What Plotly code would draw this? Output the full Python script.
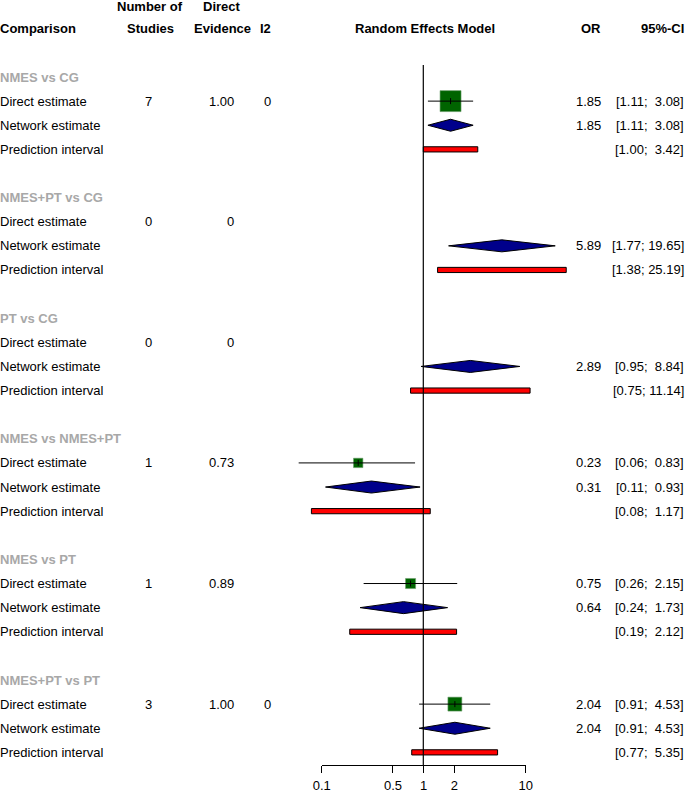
import plotly.graph_objects as go
import math

# ---------------- data ----------------
groups = ["NMES vs CG", "NMES+PT vs CG", "PT vs CG",
          "NMES vs NMES+PT", "NMES vs PT", "NMES+PT vs PT"]
row_labels = ["Direct estimate", "Network estimate", "Prediction interval"]
n_studies = [7, 0, 0, 1, 1, 3]
direct_evidence = [1.00, 0, 0, 0.73, 0.89, 1.00]
i2 = [0, None, None, None, None, 0]
direct_or = [1.85, None, None, 0.23, 0.75, 2.04]
direct_lo = [1.11, None, None, 0.06, 0.26, 0.91]
direct_hi = [3.08, None, None, 0.83, 2.15, 4.53]
direct_weight = [1.0, None, None, 0.20, 0.23, 0.44]   # relative box size
net_or = [1.85, 5.89, 2.89, 0.31, 0.64, 2.04]
net_lo = [1.11, 1.77, 0.95, 0.11, 0.24, 0.91]
net_hi = [3.08, 19.65, 8.84, 0.93, 1.73, 4.53]
pred_lo = [1.00, 1.38, 0.75, 0.08, 0.19, 0.77]
pred_hi = [3.42, 25.19, 11.14, 1.17, 2.12, 5.35]
tick_vals = [0.1, 0.5, 1, 2, 10]
tick_text = ["0.1", "0.5", "1", "2", "10"]

# ---------------- layout geometry ----------------
W, H = 685, 794
ROW0_PX, ROW_PX = 77.0, 24.12
X1_PX, DEC_PX = 423.3, 102.0
FONT = "Liberation Sans, Arial, Helvetica, sans-serif"
FS = 13
GRAY = "#a8a8a8"


def prow(py):
    return (py - ROW0_PX) / ROW_PX


y_range = [prow(H), prow(0)]
x_range = [(0 - X1_PX) / DEC_PX, (W - X1_PX) / DEC_PX]

fig = go.Figure()

diam_h = 6.0 / ROW_PX
pred_h = 2.6 / ROW_PX
tick_h = 3.0 / ROW_PX
BOX_MAX = 21.0


def fmt2(v):
    return f"{v:.2f}"


def fmt_ci(lo, hi):
    lo_s = f"{lo:.2f}"
    hi_s = f"{hi:.2f}"
    pad = "\u00a0" * (5 - len(hi_s) + 1)
    return f"[{lo_s};{pad}{hi_s}]"


ann = []


def text(xpx, row, s, anchor="left", bold=False, color="black"):
    if bold:
        s = f"<b>{s}</b>"
    ann.append(dict(x=xpx, y=row, xref="x3", yref="y", text=s,
                    showarrow=False, xanchor=anchor, yanchor="middle",
                    borderpad=0, borderwidth=0,
                    font=dict(family=FONT, size=FS, color=color)))


# headers
text(0, -2, "Comparison", bold=True)
text(150, prow(6), "Number of", anchor="center", bold=True)
text(150, -2, "Studies", anchor="center", bold=True)
text(222, prow(6), "Direct", anchor="center", bold=True)
text(222, -2, "Evidence", anchor="center", bold=True)
text(265, -2, "I2", anchor="center", bold=True)
text(424.5, -2, "Random Effects Model", anchor="center", bold=True)
text(601, -2, "OR", anchor="right", bold=True)
text(684, -2, "95%-CI", anchor="right", bold=True)

for g, name in enumerate(groups):
    r = 5 * g
    text(0, r, name, bold=True, color=GRAY)
    for k, lab in enumerate(row_labels):
        text(0, r + 1 + k, lab)
    text(152, r + 1, str(n_studies[g]), anchor="right")
    de = direct_evidence[g]
    text(234, r + 1, "0" if de == 0 else fmt2(de), anchor="right")
    if i2[g] is not None:
        text(267, r + 1, str(i2[g]), anchor="center")

    # direct estimate
    if direct_or[g] is not None:
        rr = r + 1
        fig.add_trace(go.Scatter(
            x=[direct_or[g]], y=[rr], mode="markers",
            marker=dict(symbol="square", size=BOX_MAX * math.sqrt(direct_weight[g]),
                        color="#006400", line=dict(color="#6f9f6f", width=0.6)),
            hoverinfo="skip"))
        fig.add_trace(go.Scatter(
            x=[direct_lo[g], direct_hi[g]], y=[rr, rr], mode="lines",
            line=dict(color="black", width=1), hoverinfo="skip"))
        fig.add_trace(go.Scatter(
            x=[direct_or[g], direct_or[g]], y=[rr - tick_h, rr + tick_h], mode="lines",
            line=dict(color="black", width=1), hoverinfo="skip"))
        text(601, rr, fmt2(direct_or[g]), anchor="right")
        text(684, rr, fmt_ci(direct_lo[g], direct_hi[g]), anchor="right")

    # network estimate diamond
    rr = r + 2
    fig.add_trace(go.Scatter(
        x=[net_lo[g], net_or[g], net_hi[g], net_or[g], net_lo[g]],
        y=[rr, rr - diam_h, rr, rr + diam_h, rr],
        mode="lines", fill="toself", fillcolor="#00008b",
        line=dict(color="black", width=1), hoverinfo="skip"))
    text(601, rr, fmt2(net_or[g]), anchor="right")
    text(684, rr, fmt_ci(net_lo[g], net_hi[g]), anchor="right")

    # prediction interval bar
    rr = r + 3
    fig.add_trace(go.Scatter(
        x=[pred_lo[g], pred_hi[g], pred_hi[g], pred_lo[g], pred_lo[g]],
        y=[rr - pred_h, rr - pred_h, rr + pred_h, rr + pred_h, rr - pred_h],
        mode="lines", fill="toself", fillcolor="#ff0000",
        line=dict(color="black", width=1), hoverinfo="skip"))
    text(684, rr, fmt_ci(pred_lo[g], pred_hi[g]), anchor="right")

# reference line at OR = 1
fig.add_trace(go.Scatter(x=[1, 1], y=[prow(65), prow(765)], mode="lines",
                         line=dict(color="black", width=1.2), hoverinfo="skip"))

# dummy traces to carry the tick axis and the text axis
fig.add_trace(go.Scatter(x=[1], y=[0], xaxis="x2", yaxis="y2", mode="markers",
                         marker=dict(opacity=0), hoverinfo="skip"))
fig.add_trace(go.Scatter(x=[10], y=[0], xaxis="x3", yaxis="y", mode="markers",
                         marker=dict(opacity=0), hoverinfo="skip"))

fig.update_layout(
    width=W, height=H, margin=dict(l=0, r=0, t=0, b=0, autoexpand=False),
    paper_bgcolor="white", plot_bgcolor="rgba(0,0,0,0)", showlegend=False,
    font=dict(family=FONT, size=FS, color="black"),
    xaxis=dict(type="log", range=x_range, domain=[0, 1], visible=False,
               fixedrange=True, automargin=False),
    yaxis=dict(range=y_range, domain=[0, 1], visible=False, fixedrange=True,
               automargin=False),
    xaxis2=dict(type="log", range=[-1, 1], domain=[321.7 / W, 525.7 / W],
                anchor="free", position=1 - 765 / H, showline=True, linecolor="black",
                linewidth=1, ticks="outside", ticklen=7, tickwidth=1, tickcolor="black",
                tickvals=tick_vals, ticktext=tick_text, showgrid=False, zeroline=False,
                ticklabelstandoff=1, tickfont=dict(family=FONT, size=FS, color="black"),
                fixedrange=True, automargin=False),
    yaxis2=dict(domain=[0, 1], anchor="x2", visible=False, range=[-1, 1],
                fixedrange=True, automargin=False),
    xaxis3=dict(range=[0, W], domain=[0, 1], overlaying="x", anchor="y",
                visible=False, fixedrange=True, automargin=False),
    annotations=ann,
)

fig.write_html("out.html", config={"displayModeBar": False},
               post_script="document.body.style.margin='0px';")
